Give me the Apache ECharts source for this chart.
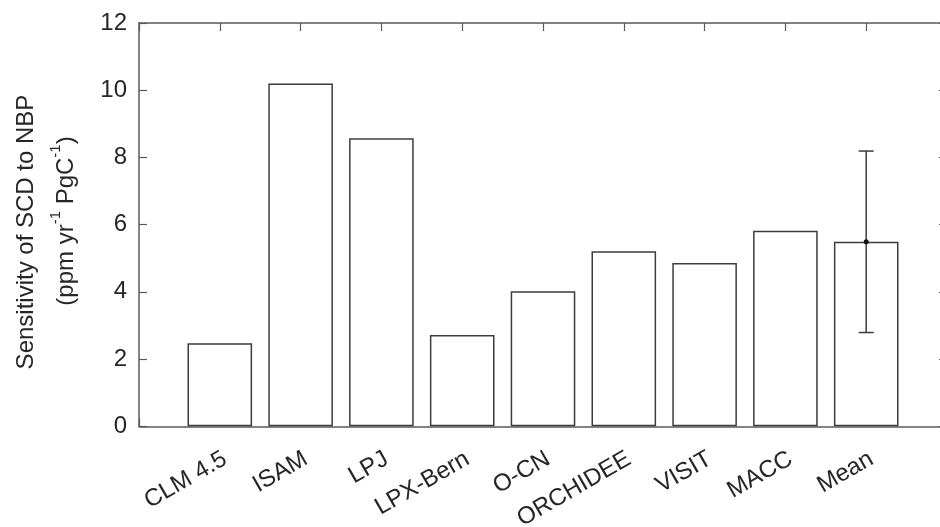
<!DOCTYPE html>
<html>
<head>
<meta charset="utf-8">
<script src="https://cdn.jsdelivr.net/npm/echarts@6/dist/echarts.min.js"></script>
<style>
html,body{margin:0;padding:0;background:#fff;}
#chart{width:940px;height:527px;}
</style>
</head>
<body>
<div id="chart"></div>
<script>
// ---- data ----
var categories = ['CLM 4.5', 'ISAM', 'LPJ', 'LPX-Bern', 'O-CN', 'ORCHIDEE', 'VISIT', 'MACC', 'Mean'];
var values = [2.47, 10.2, 8.57, 2.72, 4.02, 5.21, 4.86, 5.82, 5.49];
var errCategory = ['Mean'];
var errLow = [2.79];
var errHigh = [8.19];
var yTicks = [0, 2, 4, 6, 8, 10, 12];
var yTitleLine1 = 'Sensitivity of SCD to NBP';
var yTitleLine2 = '{a|(ppm yr}{s|-1}{a| PgC}{s|-1}{a|)}';

var FONT = '"Liberation Sans", Arial, Helvetica, sans-serif';
var FS = 24;
var TXT = '#262626';
var AX = '#5a5a5a';

var barData = values.map(function (v, i) { return [i + 1, v]; });
var errData = errCategory.map(function (c, i) {
  var idx = categories.indexOf(c);
  return [idx + 1, values[idx], errLow[i], errHigh[i]];
});

var chart = echarts.init(document.getElementById('chart'), null, {renderer: 'canvas'});
var axisCommon = {
  type: 'value', min: 0, max: 10, interval: 1,
  axisLine: {show: true, onZero: false, lineStyle: {color: AX, width: 1.5}},
  axisTick: {show: true, inside: true, length: 8, lineStyle: {color: AX, width: 1.2}},
  splitLine: {show: false}
};
var option = {
  animation: false,
  backgroundColor: '#fff',
  grid: {left: 139, top: 23, width: 808, height: 403.3, containLabel: false, outerBoundsMode: 'none'},
  graphic: [
    {
      type: 'text', x: 26, y: 232, rotation: Math.PI / 2,
      style: {text: yTitleLine1, fill: TXT, font: FS + 'px ' + FONT, align: 'center', verticalAlign: 'middle'}
    },
    {
      type: 'text', x: 63, y: 221, rotation: Math.PI / 2,
      style: {
        text: yTitleLine2, fill: TXT, font: FS + 'px ' + FONT, align: 'center', verticalAlign: 'middle',
        rich: {
          a: {fontSize: FS, fontFamily: FONT, fill: TXT, lineHeight: 30, verticalAlign: 'bottom'},
          s: {fontSize: 15, fontFamily: FONT, fill: TXT, lineHeight: 30, verticalAlign: 'top'}
        }
      }
    }
  ],
  xAxis: [
    Object.assign({}, axisCommon, {
      position: 'bottom',
      axisLabel: {
        show: true, rotate: 30, margin: 34, color: TXT, fontSize: FS, fontFamily: FONT,
        padding: [0, -6, 0, 0], hideOverlap: false,
        formatter: function (v) { return (v >= 1 && v <= categories.length) ? categories[v - 1] : ''; }
      }
    }),
    Object.assign({}, axisCommon, {position: 'top', axisLabel: {show: false}})
  ],
  yAxis: [
    {
      type: 'value', min: 0, max: 12, interval: 2, position: 'left',
      axisLine: {show: true, onZero: false, lineStyle: {color: AX, width: 1.5}},
      axisTick: {show: true, inside: true, length: 8, lineStyle: {color: AX, width: 1.2}},
      splitLine: {show: false},
      axisLabel: {color: TXT, fontSize: FS, fontFamily: FONT, margin: 12,
        formatter: function (v) { return yTicks.indexOf(v) >= 0 ? String(v) : ''; }}
    },
    {
      type: 'value', min: 0, max: 12, interval: 2, position: 'right',
      axisLine: {show: true, onZero: false, lineStyle: {color: AX, width: 1.5}},
      axisTick: {show: true, inside: true, length: 8, lineStyle: {color: AX, width: 1.2}},
      splitLine: {show: false},
      axisLabel: {show: false}
    }
  ],
  series: [
    {
      type: 'bar', xAxisIndex: 0, yAxisIndex: 0,
      data: barData, barWidth: 64.6,
      itemStyle: {color: '#ffffff', borderColor: '#3c3c3c', borderWidth: 1.5},
      silent: true
    },
    {
      type: 'custom', xAxisIndex: 0, yAxisIndex: 0,
      data: errData,
      renderItem: function (params, api) {
        var x = api.value(0);
        var pMean = api.coord([x, api.value(1)]);
        var pLo = api.coord([x, api.value(2)]);
        var pHi = api.coord([x, api.value(3)]);
        var cap = 7.5;
        var st = {stroke: '#3c3c3c', lineWidth: 1.5};
        return {
          type: 'group',
          children: [
            {type: 'line', shape: {x1: pLo[0], y1: pLo[1], x2: pHi[0], y2: pHi[1]}, style: st},
            {type: 'line', shape: {x1: pLo[0] - cap, y1: pLo[1], x2: pLo[0] + cap, y2: pLo[1]}, style: st},
            {type: 'line', shape: {x1: pHi[0] - cap, y1: pHi[1], x2: pHi[0] + cap, y2: pHi[1]}, style: st},
            {type: 'circle', shape: {cx: pMean[0], cy: pMean[1], r: 2.5}, style: {fill: '#111'}}
          ]
        };
      },
      silent: true, z: 10
    }
  ]
};
chart.setOption(option);
</script>
</body>
</html>
